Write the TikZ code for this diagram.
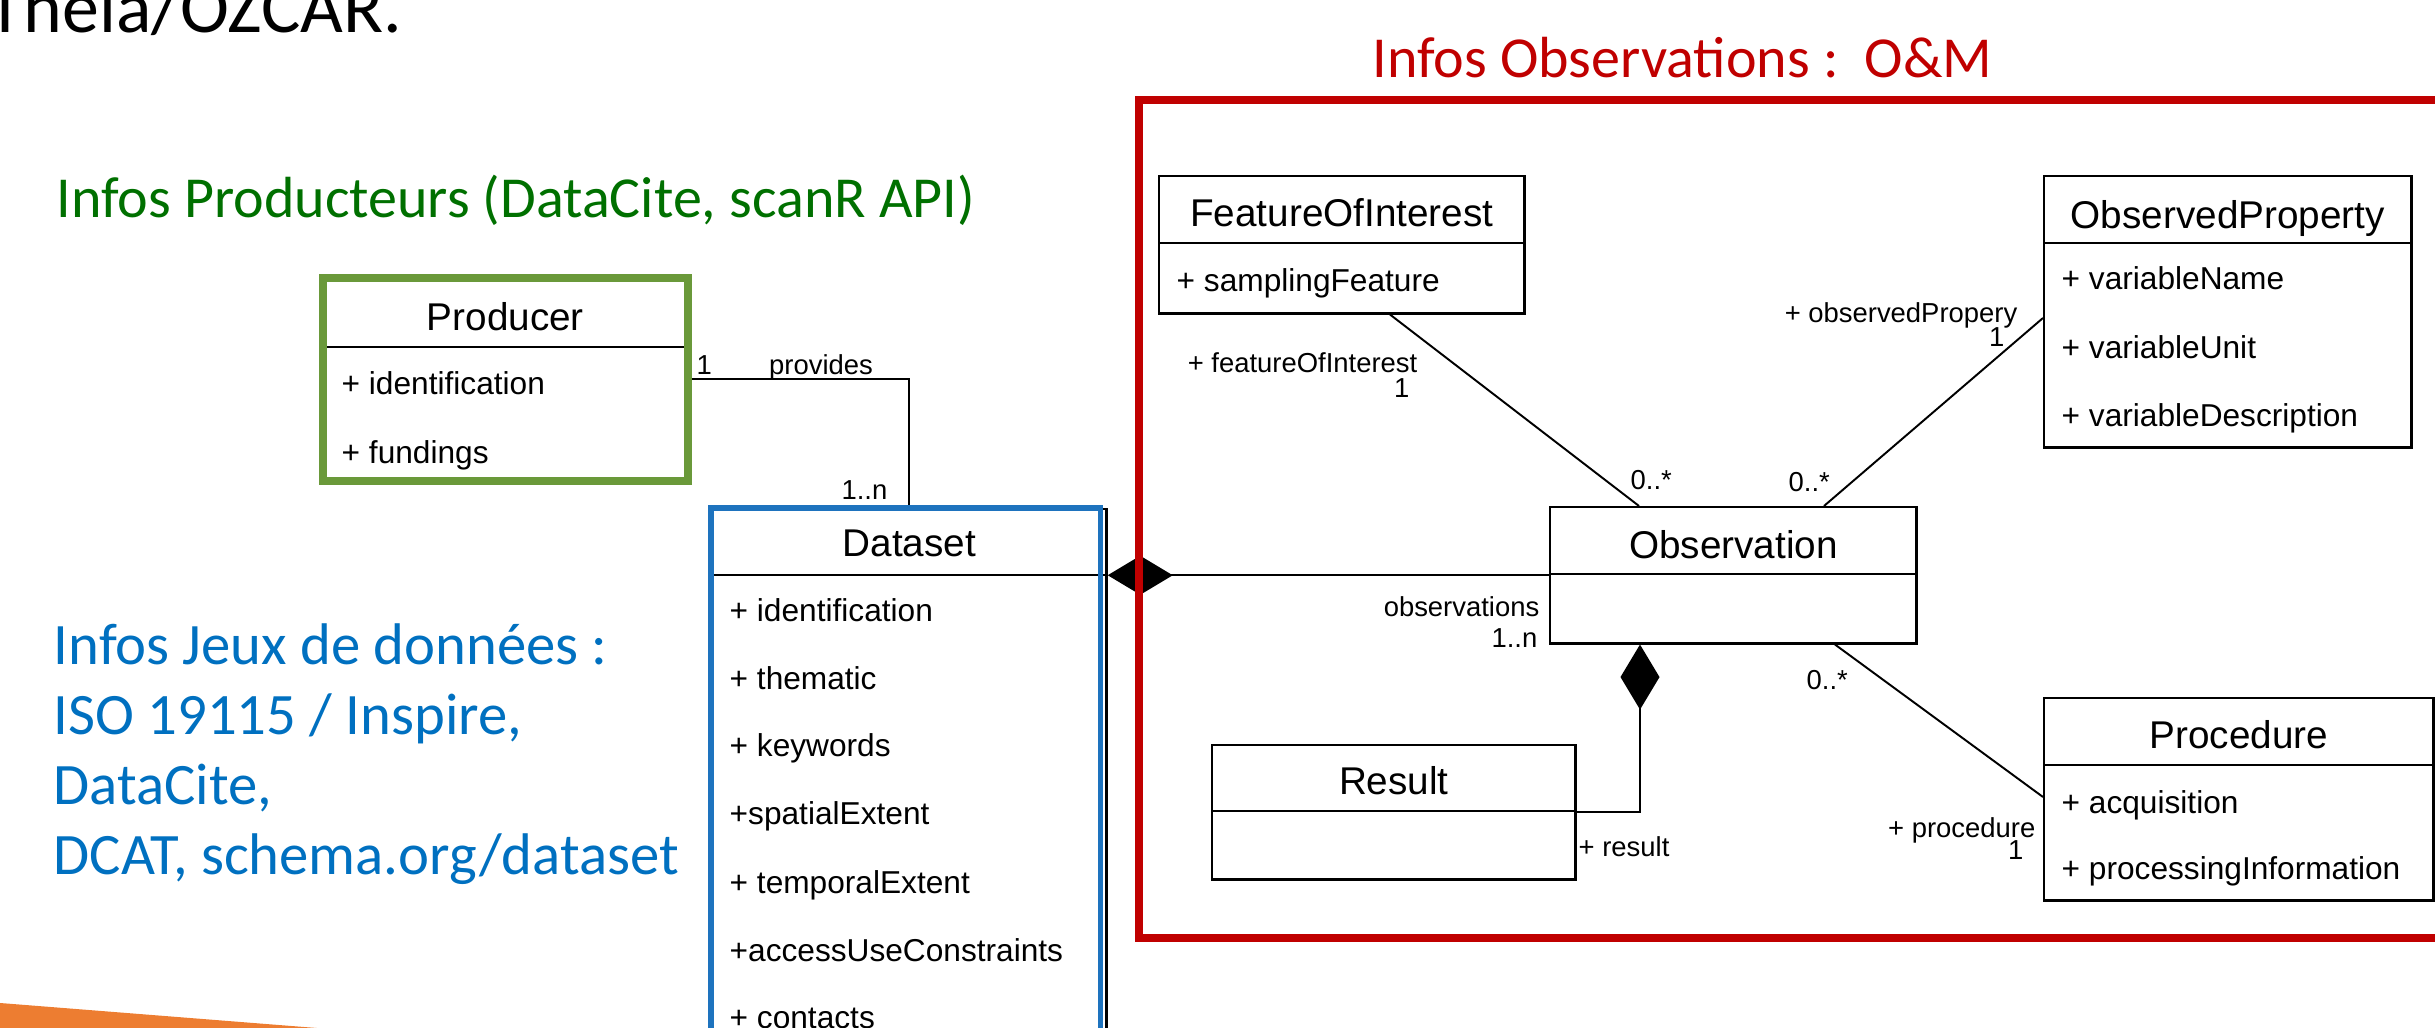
\documentclass[tikz,border=0pt]{standalone}
\usepackage{fontspec}
\setmainfont{Liberation Sans}
\newfontfamily\slidefont{Carlito}
\usetikzlibrary{arrows.meta,calc}

\definecolor{prodgreen}{RGB}{0,112,0}
\definecolor{framegreen}{RGB}{106,153,58}
\definecolor{dsblue}{RGB}{0,112,192}
\definecolor{frameblue}{RGB}{30,115,190}
\definecolor{omred}{RGB}{192,0,0}
\definecolor{slideorange}{RGB}{237,125,49}

\begin{document}
\begin{tikzpicture}[x=0.01cm, y=-0.01cm,
    umlbox/.style={draw, line width=0.7pt, anchor=north west, inner sep=0pt},
    umlline/.style={line width=0.7pt},
    clsname/.style={font=\fontsize{11}{13}\selectfont, inner sep=0pt, text height=7.9pt, text depth=0pt},
    attr/.style={font=\fontsize{9}{11}\selectfont, anchor=west, xshift=0.18cm, inner sep=0pt, text height=6.5pt, text depth=0pt},
    role/.style={font=\fontsize{7.8}{9}\selectfont, inner sep=0pt, text height=5.6pt, text depth=0pt},
    assoc/.style={line width=0.55pt},
    comp/.style={line width=0.6pt, {Diamond[length=6.5mm, width=3.9mm]}-},
    slidetxt/.style={font=\slidefont\fontsize{16.5}{20}\selectfont, inner sep=0pt, anchor=base west}]
  \useasboundingbox (0,0) rectangle (2435,1028);

  \fill[slideorange] (0,1003) -- (380,1033) -- (0,1033) -- cycle;

  \node[slidetxt, font=\slidefont\fontsize{21}{25}\selectfont] (theia) at (-13,33) {Theia/OZCAR.};
  \node[slidetxt, text=prodgreen] (prodinfo) at (56,218) {Infos Producteurs (DataCite, scanR API)};
  \node[slidetxt, text=omred] (obsinfo) at (1372,78) {Infos Observations :\ \ O\&M};
  \node[slidetxt, text=dsblue, font=\slidefont\fontsize{16.7}{20}\selectfont] (dsinfo1) at (53,665) {Infos Jeux de données :};
  \node[slidetxt, text=dsblue, font=\slidefont\fontsize{16.7}{20}\selectfont] (dsinfo2) at (53,735) {ISO 19115 / Inspire,};
  \node[slidetxt, text=dsblue, font=\slidefont\fontsize{16.7}{20}\selectfont] (dsinfo3) at (53,805) {DataCite,};
  \node[slidetxt, text=dsblue, font=\slidefont\fontsize{16.7}{20}\selectfont] (dsinfo4) at (53,875) {DCAT, schema.org/dataset};

  % classes
  \node[umlbox, minimum width=3.62cm, minimum height=2.00cm] (producer) at (323,278) {};
  \node[umlbox, minimum width=3.94cm, minimum height=5.40cm] (dataset) at (711,508) {};
  \node[umlbox, minimum width=3.65cm, minimum height=1.37cm] (foi) at (1158,175) {};
  \node[umlbox, minimum width=3.67cm, minimum height=2.71cm] (obsprop) at (2043,175) {};
  \node[umlbox, minimum width=3.66cm, minimum height=1.36cm] (obs) at (1549,506) {};
  \node[umlbox, minimum width=3.63cm, minimum height=1.34cm] (result) at (1211,744) {};
  \node[umlbox, minimum width=3.89cm, minimum height=2.02cm] (proc) at (2043,697) {};

  \draw[umlline] (producer.west |- 0,347) -- (producer.east |- 0,347);
  \draw[umlline] (dataset.west |- 0,575) -- (dataset.east |- 0,575);
  \draw[umlline] (foi.west |- 0,243) -- (foi.east |- 0,243);
  \draw[umlline] (obsprop.west |- 0,243) -- (obsprop.east |- 0,243);
  \draw[umlline] (obs.west |- 0,574) -- (obs.east |- 0,574);
  \draw[umlline] (result.west |- 0,811) -- (result.east |- 0,811);
  \draw[umlline] (proc.west |- 0,765) -- (proc.east |- 0,765);

  \node[clsname] (producer-name) at (producer.north |- 0,317) {Producer};
  \node[clsname] (dataset-name) at (dataset.north |- 0,543) {Dataset};
  \node[clsname] (foi-name) at (foi.north |- 0,213) {FeatureOfInterest};
  \node[clsname] (obsprop-name) at (obsprop.north |- 0,215) {ObservedProperty};
  \node[clsname] (obs-name) at (obs.north |- 0,545) {Observation};
  \node[clsname] (result-name) at (result.north |- 0,781) {Result};
  \node[clsname] (proc-name) at (proc.north |- 0,735) {Procedure};

  \node[attr] (producer-a1) at (producer.west |- 0,383) {+ identification};
  \node[attr] (producer-a2) at (producer.west |- 0,452) {+ fundings};
  \node[attr] (dataset-a1) at (dataset.west |- 0,610) {+ identification};
  \node[attr] (dataset-a2) at (dataset.west |- 0,678) {+ thematic};
  \node[attr] (dataset-a3) at (dataset.west |- 0,745) {+ keywords};
  \node[attr] (dataset-a4) at (dataset.west |- 0,813) {+spatialExtent};
  \node[attr] (dataset-a5) at (dataset.west |- 0,882) {+ temporalExtent};
  \node[attr] (dataset-a6) at (dataset.west |- 0,950) {+accessUseConstraints};
  \node[attr] (dataset-a7) at (dataset.west |- 0,1017) {+ contacts};
  \node[attr] (foi-a1) at (foi.west |- 0,280) {+ samplingFeature};
  \node[attr] (obsprop-a1) at (obsprop.west |- 0,278) {+ variableName};
  \node[attr] (obsprop-a2) at (obsprop.west |- 0,347) {+ variableUnit};
  \node[attr] (obsprop-a3) at (obsprop.west |- 0,415) {+ variableDescription};
  \node[attr] (proc-a1) at (proc.west |- 0,802) {+ acquisition};
  \node[attr] (proc-a2) at (proc.west |- 0,868) {+ processingInformation};

  % associations
  \draw[assoc] (producer.east) -| (dataset.north);
  \draw[comp] (dataset.east |- obs.west) -- (obs.west);
  \draw[assoc] ($(foi.south west)+(232,0)$) -- ($(obs.north west)+(90,0)$);
  \draw[assoc] ($(obsprop.north west)+(0,143)$) -- ($(obs.north west)+(275,0)$);
  \draw[assoc] ($(obs.south west)+(286,0)$) -- ($(proc.north west)+(0,100)$);
  \draw[comp] ($(obs.south west)+(91,0)$) |- (result.east);

  \node[role, anchor=west] (prov-m1) at (696,365) {1};
  \node[role] (prov-name) at (821,365) {provides};
  \node[role, anchor=east] (prov-m2) at (888,490) {1..n};
  \node[role, anchor=east] (foi-role) at (1418,363) {+ featureOfInterest};
  \node[role, anchor=east] (foi-m1) at (1410,388) {1};
  \node[role, anchor=west] (foi-m2) at (1630,480) {0..*};
  \node[role, anchor=east] (obsprop-role) at (2018,313) {+ observedPropery};
  \node[role, anchor=east] (obsprop-m1) at (2005,337) {1};
  \node[role, anchor=west] (obsprop-m2) at (1788,482) {0..*};
  \node[role, anchor=east] (obs-role) at (1540,607) {observations};
  \node[role, anchor=east] (obs-m1) at (1538,638) {1..n};
  \node[role, anchor=west] (proc-m2) at (1806,680) {0..*};
  \node[role, anchor=east] (proc-role) at (2036,828) {+ procedure};
  \node[role, anchor=east] (proc-m1) at (2024,850) {1};
  \node[role, anchor=west] (result-role) at (1578,847) {+ result};

  % frames
  \draw[framegreen, line width=2.3pt] (producer.north west) rectangle (producer.south east);
  \draw[frameblue, line width=1.5pt] (dataset.north west) rectangle ([xshift=-0.07cm]dataset.south east);
  \draw[omred, line width=2pt] (1139,100) rectangle (2480,938);
\end{tikzpicture}
\end{document}
